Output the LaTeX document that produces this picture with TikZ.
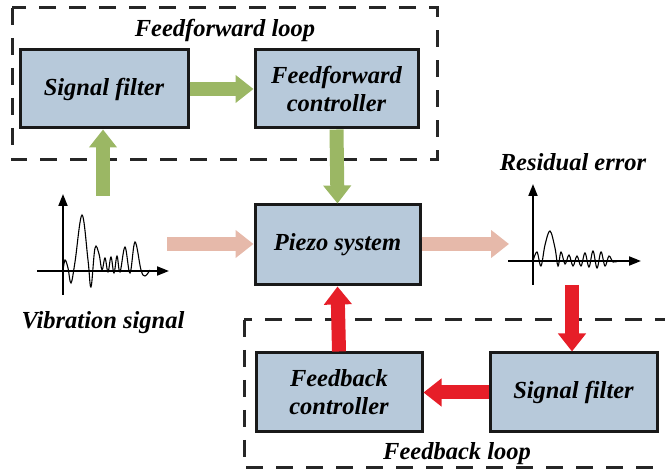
\documentclass[tikz,border=0pt]{standalone}
\usepackage{fontspec}
\setmainfont{Liberation Serif}
\usepackage{xcolor}
\usetikzlibrary{arrows.meta}

\definecolor{boxblue}{HTML}{B7C9DA}
\definecolor{ffgreen}{HTML}{9BB764}
\definecolor{sigpink}{HTML}{E6B9AA}
\definecolor{fbred}{HTML}{E61E28}

\begin{document}
\begin{tikzpicture}[
    x=1pt, y=-1pt,
    font=\fontsize{24.5}{28}\selectfont\bfseries\itshape,
    block/.style={rectangle, draw=black!90, line width=3pt, fill=boxblue, align=center, inner sep=0pt},
    loopbox/.style={draw=black!85, line width=3pt, dash pattern=on 17pt off 13pt},
    fatarrow/.style={line width=14pt, -{Triangle[width=27pt,length=18pt]}},
    axis/.style={line width=2pt, -{Triangle[width=9pt,length=12pt]}},
    wave/.style={line width=1.1pt},
]
\clip (0,0) rectangle (665,473);

% loop frames
\draw[loopbox] (12,8) rectangle (437,160);
\draw[loopbox] (244,320) rectangle (700,468);
\node (fflabel) at (225,30) {Feedforward loop};
\node (fblabel) at (457,454) {Feedback loop};

% blocks
\node[block, minimum width=168pt, minimum height=78pt] (sf1) at (104,89) {Signal filter};
\node[block, minimum width=163pt, minimum height=78pt] (ffc) at (336.5,89) {Feedforward\\controller};
\node[block, minimum width=165pt, minimum height=80pt] (piezo) at (337.5,245) {Piezo system};
\node[block, minimum width=166pt, minimum height=79pt] (fbc) at (339,392.5) {Feedback\\controller};
\node[block, minimum width=167pt, minimum height=79pt] (sf2) at (573.5,392.5) {Signal filter};

% vibration signal
\draw[axis] (63,295) -- (63,194);
\draw[axis] (37,271) -- (169,271);
\draw[wave] plot[smooth, tension=0.6] coordinates {(63,271) (65,260) (68,268) (71,283) (75,262) (82,215) (88,260) (91,287) (95,248) (99,254) (102,270) (105,258) (108,272) (111,257) (114,273) (117,256) (120,272) (125,247) (130,273) (135,242) (141,270) (145,276) (150,270)};
\node (vslabel) at (103,323) {Vibration signal};

% residual error
\draw[axis] (533,285) -- (533,184);
\draw[axis] (508,261) -- (641,261);
\draw[wave] plot[smooth, tension=0.6] coordinates {(533,261) (537,252) (541,266) (545,245) (550,231) (555,248) (558,266) (561,252) (565,264) (569,255) (573,266) (577,256) (581,266) (585,253) (589,267) (593,251) (597,268) (601,252) (605,266) (609,256) (613,262) (618,261)};
\node (relabel) at (573,162) {Residual error};

\coordinate (vsup) at (103,196);
\coordinate (vsin) at (167,244);
\coordinate (reout) at (509,244);
\coordinate (redown) at (572,285);

% feedforward path
\draw[fatarrow, ffgreen] (vsup) -- (vsup |- sf1.south);
\draw[fatarrow, ffgreen] (sf1.east) -- (ffc.west);
\draw[fatarrow, ffgreen] (ffc.south) -- (piezo.north);

% signal path
\draw[fatarrow, sigpink] (vsin) -- (vsin -| piezo.west);
\draw[fatarrow, sigpink] (piezo.east |- reout) -- (reout);

% feedback path
\draw[fatarrow, fbred] (redown) -- (redown |- sf2.north);
\draw[fatarrow, fbred] (sf2.west) -- (fbc.east);
\draw[fatarrow, fbred] (fbc.north) -- (piezo.south);

\end{tikzpicture}
\end{document}
